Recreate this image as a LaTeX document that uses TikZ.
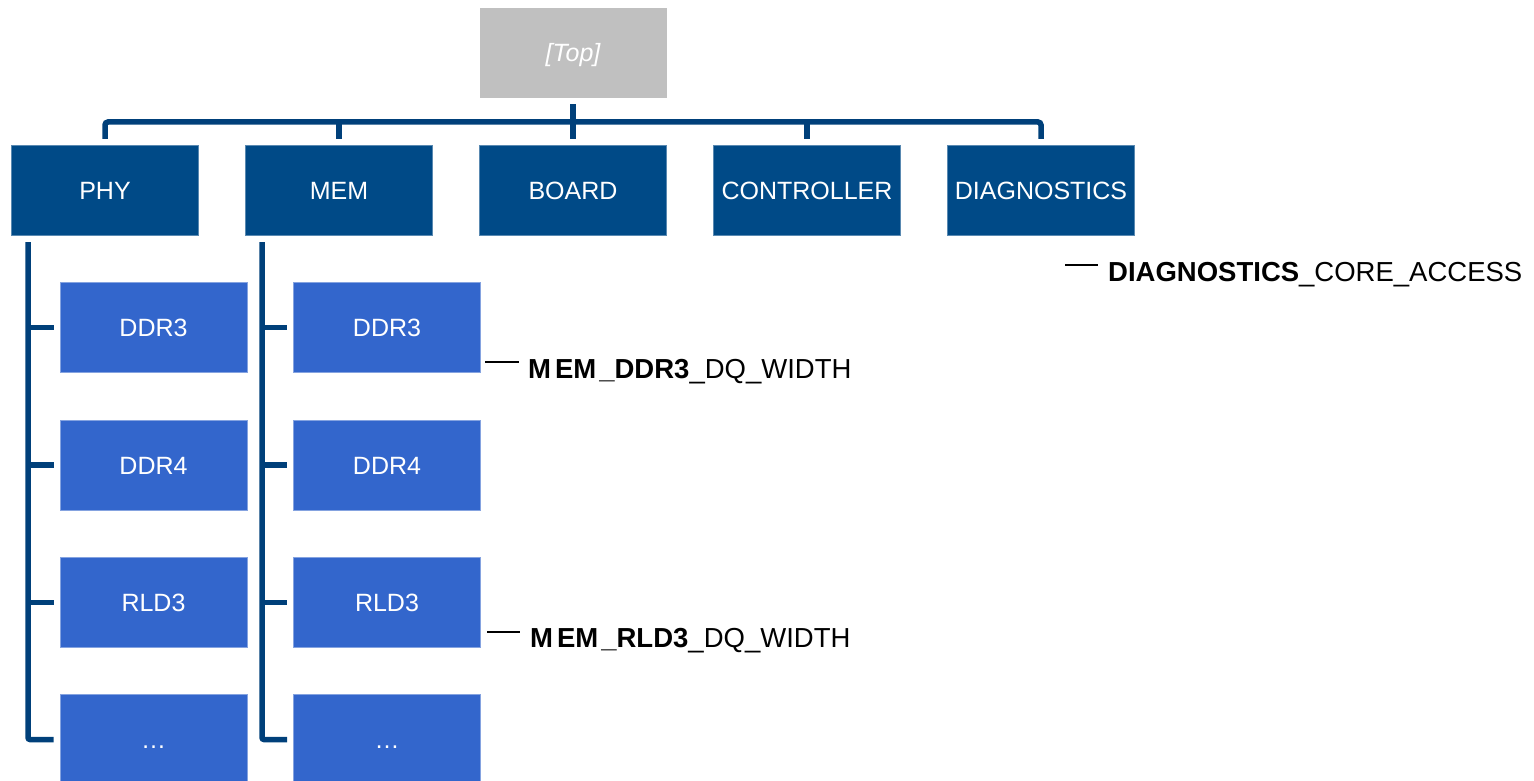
\documentclass[tikz,border=0pt]{standalone}
\usepackage{fontspec}
\setmainfont{Liberation Sans}
\definecolor{navy}{RGB}{0,74,135}
\definecolor{wire}{RGB}{0,64,122}
\definecolor{leaf}{RGB}{51,102,204}
\definecolor{topgray}{RGB}{192,192,192}
\begin{document}
\begin{tikzpicture}[x=1pt,y=-1pt,
  box/.style={minimum width=187pt, minimum height=90pt, inner sep=0pt, text=white,
              text height=18pt, text depth=0pt,
              font=\fontsize{25}{30}\selectfont},
  group/.style={box, fill=navy, draw=navy!65!white, line width=1pt},
  leafbox/.style={box, fill=leaf, draw=leaf!60!white, line width=1pt},
  rootbox/.style={box, fill=topgray, font=\fontsize{25}{30}\selectfont\itshape},
  bus/.style={draw=wire, line width=5.5pt},
  tick/.style={draw=black, line width=1.5pt},
  param/.style={anchor=base west, inner sep=0pt, font=\fontsize{27.5}{32}\selectfont}]
\useasboundingbox (0,0) rectangle (1534,781);

% root and first level
\node[rootbox] (top) at (573,53) {[Top]};
\node[group] (phy)   at (105,190.5)  {PHY};
\node[group] (mem)   at (339,190.5)  {MEM};
\node[group] (board) at (573,190.5)  {BOARD};
\node[group] (ctrl)  at (807,190.5)  {CONTROLLER};
\node[group] (diag)  at (1041,190.5) {DIAGNOSTICS};

% PHY children
\node[leafbox] (p1) at (153.5,327.5) {DDR3};
\node[leafbox] (p2) at (153.5,465)   {DDR4};
\node[leafbox] (p3) at (153.5,602.5) {RLD3};
\node[leafbox] (p4) at (153.5,739.5) {\dots};

% MEM children
\node[leafbox] (m1) at (387,327.5) {DDR3};
\node[leafbox] (m2) at (387,465)   {DDR4};
\node[leafbox] (m3) at (387,602.5) {RLD3};
\node[leafbox] (m4) at (387,739.5) {\dots};

% bus from the root to the first level
\coordinate (busy) at (0,122);
\draw[bus] ([yshift=-6pt]top.south) -- ([yshift=6pt]board.north);
\draw[bus, rounded corners=3pt] ([yshift=6pt]phy.north) -- (phy.north |- busy)
      -- (diag.north |- busy) -- ([yshift=6pt]diag.north);
\foreach \n in {mem,ctrl}
  \draw[bus] (\n.north |- busy) -- ([yshift=6pt]\n.north);

% side rails to the children
\coordinate (phyrail) at ([xshift=17pt]phy.south west);
\coordinate (memrail) at ([xshift=17pt]mem.south west);
\draw[bus, rounded corners=2pt] ([yshift=-6pt]phyrail) |- ([xshift=-6pt]p4.west);
\draw[bus, rounded corners=2pt] ([yshift=-6pt]memrail) |- ([xshift=-6pt]m4.west);
\foreach \k in {1,2,3} {
  \draw[bus] (p\k.west -| phyrail) -- ([xshift=-6pt]p\k.west);
  \draw[bus] (m\k.west -| memrail) -- ([xshift=-6pt]m\k.west);
}

% parameter labels
\node[param] (pddr)  at (528,378)  {\textbf{M\kern4pt EM\kern3pt\_DDR3}\_DQ\_WIDTH};
\node[param] (prld)  at (530,647)  {\textbf{M\kern4pt EM\kern3pt\_RLD3}\_DQ\_WIDTH};
\node[param] (pdiag) at (1108,281) {\textbf{DIAGNOSTICS}\_CORE\_ACCESS};
\draw[tick] ([xshift=-43pt,yshift=16pt]pddr.base west)  -- ++(34,0);
\draw[tick] ([xshift=-43pt,yshift=15pt]prld.base west)  -- ++(33,0);
\draw[tick] ([xshift=-43pt,yshift=16pt]pdiag.base west) -- ++(33,0);
\end{tikzpicture}
\end{document}
